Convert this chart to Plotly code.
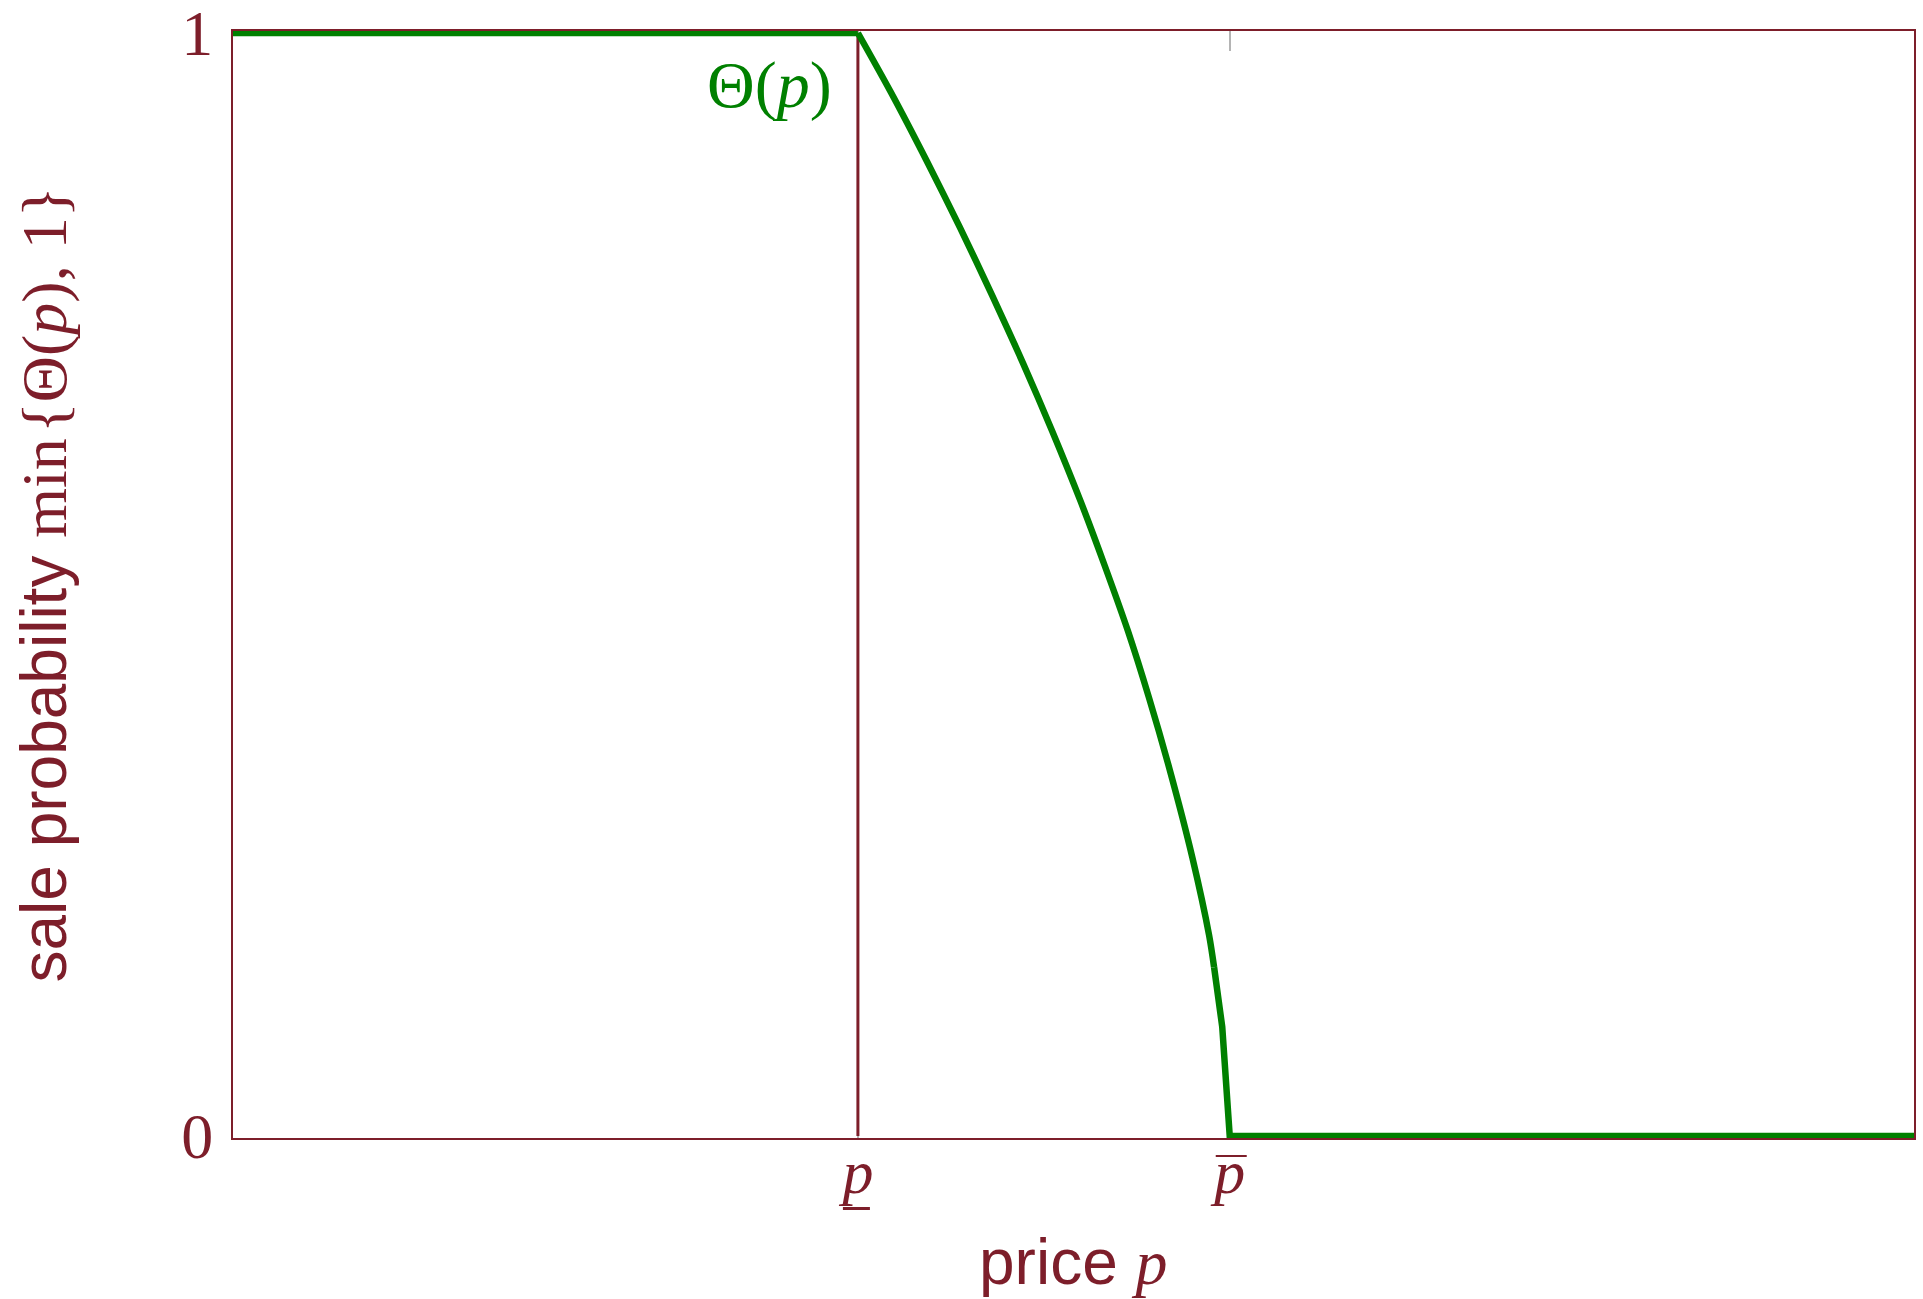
import plotly.graph_objects as go

MAROON = "#7D1E2A"
GREEN = "#008000"
TICK_GREY = "#b4b4b4"
SANS = "Liberation Sans"
SERIF = "Liberation Serif"

# price axis extent and the two threshold prices
p_axis_max = 2.69
p_lower = 1.0
p_upper = 1.595

# sale probability min{Θ(p), 1} sampled along the price axis
price = [0.0, 1.0, 1.053, 1.111, 1.163, 1.215, 1.264, 1.311, 1.356,
         1.395, 1.432, 1.466, 1.499, 1.535, 1.562, 1.570, 1.583, 1.595, 2.69]
sale_prob = [1.0, 1.0, 0.946, 0.883, 0.824, 0.762, 0.701, 0.639, 0.576,
             0.517, 0.458, 0.397, 0.332, 0.253, 0.182, 0.153, 0.099, 0.0, 0.0]

# tick positions and labels
x_ticks = [p_lower, p_upper]
x_ticktext = ["<i>p</i>", "<i>p</i>"]
y_ticks = [0, 1]
y_ticktext = ["0", "1"]

# index ranges: flat top, smooth decline, coarse tail into the flat bottom
i_top_end = price.index(p_lower)
i_tail_start = price.index(1.570)

fig = go.Figure()

# vertical marker at the lower price bound
fig.add_trace(go.Scatter(
    x=[p_lower, p_lower], y=[0, 1], mode="lines",
    line=dict(color=MAROON, width=3), hoverinfo="skip", showlegend=False,
))

# sale probability curve, drawn in three pieces
segments = [
    (0, i_top_end + 1, "linear"),
    (i_top_end, i_tail_start + 1, "spline"),
    (i_tail_start, len(price), "linear"),
]
for start, stop, shape in segments:
    fig.add_trace(go.Scatter(
        x=price[start:stop], y=sale_prob[start:stop], mode="lines",
        line=dict(color=GREEN, width=6.5, shape=shape, smoothing=0.8),
        hoverinfo="skip", showlegend=False,
    ))

fig.update_xaxes(
    range=[0, p_axis_max], showgrid=False, zeroline=False,
    showline=True, linecolor=MAROON, linewidth=2, mirror="allticks",
    ticks="inside", ticklen=20, tickwidth=1.5, tickcolor=TICK_GREY,
    tickvals=x_ticks, ticktext=x_ticktext,
    tickfont=dict(family=SERIF, size=62, color=MAROON),
    ticklabelstandoff=-21, ticklabeloverflow="allow",
    layer="below traces", automargin=False,
)
fig.update_yaxes(
    range=[-0.0018, 1.0018], showgrid=False, zeroline=False,
    showline=True, linecolor=MAROON, linewidth=2, mirror=True,
    ticks="", tickvals=y_ticks, ticktext=y_ticktext,
    tickfont=dict(family=SERIF, size=64, color=MAROON),
    ticklabelstandoff=5, ticklabeloverflow="allow",
    layer="below traces", automargin=False,
)

# underline for the lower bound and bar for the upper bound tick labels
fig.add_shape(type="rect", xref="x", yref="paper",
              xsizemode="pixel", ysizemode="pixel",
              xanchor=p_lower, yanchor=0, x0=-15, x1=12, y0=-69, y1=-72,
              fillcolor=MAROON, line=dict(width=0))
fig.add_shape(type="rect", xref="x", yref="paper",
              xsizemode="pixel", ysizemode="pixel",
              xanchor=p_upper, yanchor=0, x0=-14, x1=17, y0=-17, y1=-19,
              fillcolor=MAROON, line=dict(width=0))

# curve label
fig.add_annotation(
    x=p_lower, y=1, xref="x", yref="y", xanchor="right", yanchor="middle",
    xshift=-24, yshift=-52, showarrow=False,
    text="Θ(<i>p</i>)", font=dict(family=SERIF, size=66, color=GREEN),
)

# axis titles
fig.add_annotation(
    x=0.5, y=0, xref="paper", yref="paper", xanchor="center", yanchor="middle",
    yshift=-124, showarrow=False,
    text="price <span style=\"font-family:Liberation Serif\"><i>p</i></span>",
    font=dict(family=SANS, size=64, color=MAROON),
)
fig.add_annotation(
    x=0, y=0.5, xref="paper", yref="paper", xanchor="center", yanchor="middle",
    xshift=-190, textangle=-90, showarrow=False,
    text="sale probability <span style=\"font-family:Liberation Serif\">"
         "min\u200a{Θ(<i>p</i>), 1}</span>",
    font=dict(family=SANS, size=64, color=MAROON),
)

fig.update_layout(
    width=1923, height=1299,
    margin=dict(l=233, r=9, t=31, b=161),
    paper_bgcolor="white", plot_bgcolor="white",
    showlegend=False,
)

fig.write_html("out.html")
